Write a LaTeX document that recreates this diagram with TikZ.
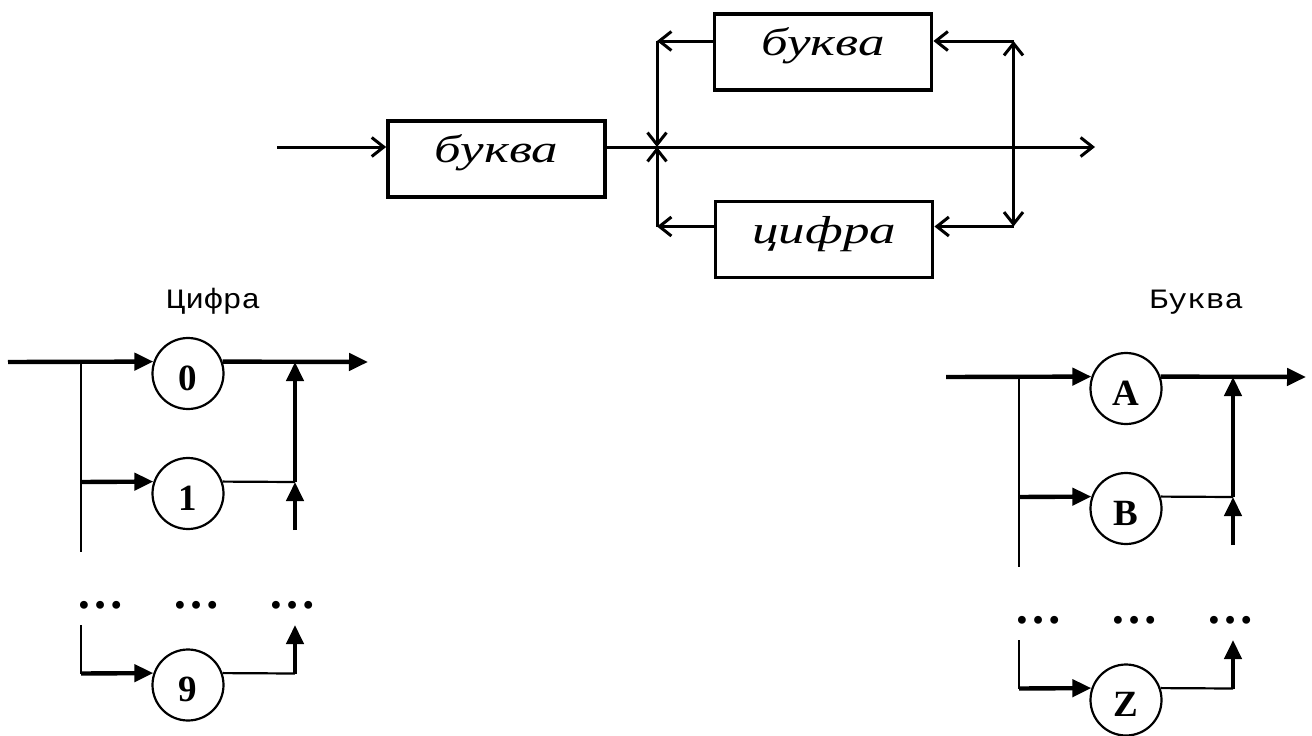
\documentclass[tikz,border=0pt]{standalone}
\usepackage{fontspec}
\setmainfont{Liberation Serif}
\newfontfamily\monofont{Liberation Mono}
\usepackage{graphicx}
\usetikzlibrary{arrows.meta}
\newcommand{\boxtxt}[1]{{\itshape\fontsize{39}{39}\selectfont\scalebox{1.36}[1]{#1}}}
\newcommand{\titletxt}[1]{{\monofont\fontsize{28}{28}\selectfont\scalebox{1.12}[1]{#1}}}
\begin{document}
\begin{tikzpicture}[x=1pt,y=-1pt,
  box/.style={draw, line width=3.5pt, minimum width=217pt, minimum height=76pt,
    inner sep=0pt, text height=15pt, text depth=8pt},
  barb/.tip={Straight Barb[length=12pt,width=19pt]},
  conn/.style={line width=3pt, -barb},
  circ/.style={circle, draw, line width=2.2pt, minimum size=71pt, inner sep=0pt,
    text height=33pt, text depth=0pt, font=\bfseries\fontsize{37}{37}\selectfont},
  thk/.style={line width=4.4pt},
  thn/.style={line width=2.2pt},
  tri/.style={-{Triangle[length=19pt,width=17pt]}},
  dots/.style={anchor=base, inner sep=0pt, font=\bfseries\fontsize{48}{48}\selectfont},
  ttl/.style={anchor=base, inner sep=0pt}
]
\useasboundingbox (0,0) rectangle (1312,736);

% ---------- top diagram ----------
\node[box] (b1) at (496.4,158.9) {\boxtxt{буква}};
\node[box] (b2) at (823.2,52) {\boxtxt{буква}};
\node[box] (b3) at (824.2,239.7) {\boxtxt{цифра}};

\coordinate (tin) at (277,147);
\coordinate (tj) at (657,147);
\coordinate (tout) at (1095,147);
\coordinate (jt) at (657,41);
\coordinate (jb) at (657,226.5);
\coordinate (rt) at (1013.5,41);
\coordinate (rb) at (1013.5,226.5);

\draw[conn] (tin) -- (tin -| b1.west);
\draw[conn] (b1.east |- tin) -- (tout);
\draw[line width=3pt, barb-barb] (rb) -- (rt);
\draw[conn] (rt) -- (rt -| b2.east);
\draw[conn] (rt -| b2.west) -- (jt);
\draw[conn] (jt) -- (tj);
\draw[conn] (rb) -- (rb -| b3.east);
\draw[conn] (rb -| b3.west) -- (jb);
\draw[conn] (jb) -- (tj);

% ---------- Цифра ----------
\node[ttl] (tc) at (213.5,308) {\titletxt{Цифра}};
\node[circ] (c0) at (188,373.5) {0};
\node[circ] (c1) at (188,493.5) {1};
\node[circ] (c9) at (188,685) {9};

\coordinate (ca) at (8,362);
\coordinate (cv0) at (81,362);
\coordinate (cv1) at (81,482);
\coordinate (cvb) at (81,552);
\coordinate (cv2) at (81,625);
\coordinate (cv9) at (81,673.5);
\coordinate (co) at (368,362);
\coordinate (cr0) at (295,362);
\coordinate (cr1) at (295,482);
\coordinate (crb) at (295,530);
\coordinate (cr2) at (295,625);
\coordinate (cr9) at (295,673.5);

\draw[thk,tri] (ca) -- (c0.161);
\draw[thn] (cv0) -- (cvb);
\draw[thk,tri] (cv1) -- (c1.161);
\draw[thk,tri] (c0.19) -- (co);
\draw[thk,tri] (cr1) -- (cr0);
\draw[thn] (c1.19) -- (cr1);
\draw[thk,tri] (crb) -- (cr1);
\draw[thn] (cv2) -- (cv9);
\draw[thk,tri] (cv9) -- (c9.161);
\draw[thn] (c9.19) -- (cr9);
\draw[thk,tri] (cr9) -- (cr2);

\node[dots] (cd1) at (100.8,608.4) {…};
\node[dots] (cd2) at (196.3,608.4) {…};
\node[dots] (cd3) at (292.5,608.4) {…};

% ---------- Буква ----------
\node[ttl] (tb) at (1196.5,308) {\titletxt{Буква}};
\node[circ] (lA) at (1126,388.5) {A};
\node[circ] (lB) at (1126,508.5) {B};
\node[circ] (lZ) at (1126,700) {Z};

\coordinate (la) at (946,377);
\coordinate (lv0) at (1019,377);
\coordinate (lv1) at (1019,497);
\coordinate (lvb) at (1019,567);
\coordinate (lv2) at (1019,640);
\coordinate (lv9) at (1019,688.5);
\coordinate (lo) at (1306,377);
\coordinate (lr0) at (1233,377);
\coordinate (lr1) at (1233,497);
\coordinate (lrb) at (1233,545);
\coordinate (lr2) at (1233,640);
\coordinate (lr9) at (1233,688.5);

\draw[thk,tri] (la) -- (lA.161);
\draw[thn] (lv0) -- (lvb);
\draw[thk,tri] (lv1) -- (lB.161);
\draw[thk,tri] (lA.19) -- (lo);
\draw[thk,tri] (lr1) -- (lr0);
\draw[thn] (lB.19) -- (lr1);
\draw[thk,tri] (lrb) -- (lr1);
\draw[thn] (lv2) -- (lv9);
\draw[thk,tri] (lv9) -- (lZ.161);
\draw[thn] (lZ.19) -- (lr9);
\draw[thk,tri] (lr9) -- (lr2);

\node[dots] (ld1) at (1038.8,623.4) {…};
\node[dots] (ld2) at (1134.3,623.4) {…};
\node[dots] (ld3) at (1230.5,623.4) {…};
\end{tikzpicture}
\end{document}
